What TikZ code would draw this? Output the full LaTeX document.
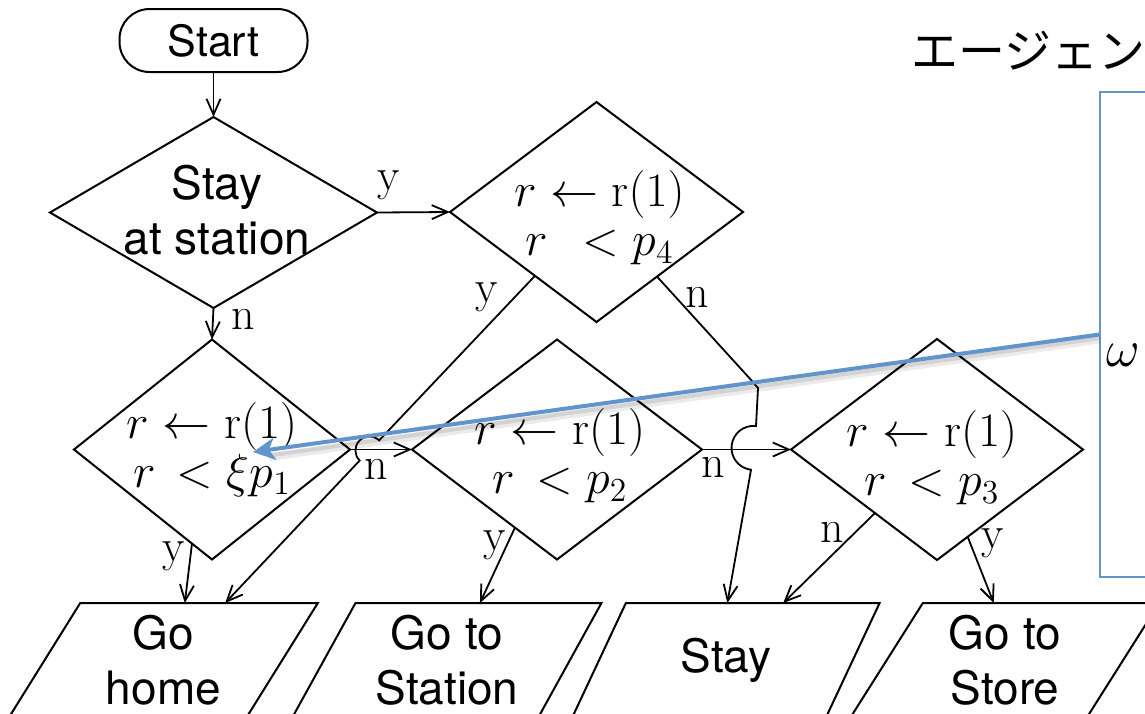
\RequirePackage{fix-cm}
\documentclass[tikz,border=0pt]{standalone}
\usepackage{fontspec}
\setsansfont{TeX Gyre Heros}
\newfontfamily\jpfont{Noto Sans CJK JP}
\usetikzlibrary{shapes.geometric,arrows.meta,calc}

\definecolor{slideblue}{RGB}{98,148,204}

\tikzset{
  box/.style={draw, line width=1pt, inner sep=0pt, outer sep=0pt},
  decision/.style={box, diamond},
  action/.style={box, trapezium, trapezium left angle=61.4, trapezium right angle=118.6,
    trapezium stretches=true, minimum width=154.5pt, minimum height=57pt, align=center,
    font=\sffamily\fontsize{23}{27.5}\selectfont},
  flow/.style={line width=0.9pt, -{Straight Barb[length=8pt,width=7pt]}},
  yn/.style={inner sep=0pt, font=\fontsize{23}{23}\selectfont},
  cond/.style={inner sep=0pt, align=center, font=\fontsize{24}{24.5}\selectfont},
  bluearrow/.style={slideblue, line width=2pt, -{Stealth[length=11pt,width=11pt,inset=3pt]}},
}

\begin{document}
\begin{tikzpicture}[x=0.5pt, y=-0.5pt]
  \useasboundingbox (0,0) rectangle (1145,713);
  \clip (0,0) rectangle (1145,713);

  % start and the tests
  \node[box, rounded corners=15pt, minimum width=94pt, minimum height=31.5pt,
        font=\sffamily\fontsize{21.5}{21.5}\selectfont] (start) at (213.5,40.5) {Start};
  \node[decision, minimum width=163.5pt, minimum height=95.5pt] (atst) at (213.5,212.5) {};
  \node[decision, minimum width=146.5pt, minimum height=110pt] (dfour) at (596.5,212) {};
  \node[decision, minimum width=138pt, minimum height=110pt] (done) at (212,449.5) {};
  \node[decision, minimum width=145pt, minimum height=110pt] (dtwo) at (557,449.5) {};
  \node[decision, minimum width=146pt, minimum height=110.5pt] (dthree) at (937,449.5) {};

  \node[inner sep=0pt, align=center, font=\sffamily\fontsize{23}{27.5}\selectfont]
        (atsttxt) at ([shift={(3.5,-2.5)}]atst.center) {Stay\\at station};
  \node[cond] (tfour) at ([shift={(3,6)}]dfour.center) {$r\leftarrow\mathrm{r}(1)$\\$r\;\,< p_4$};
  \node[cond] (tone) at ([shift={(0,0)}]done.center) {$r\leftarrow\mathrm{r}(1)$\\$r\,< \xi p_1$};
  \node[cond] (ttwo) at ([shift={(3,6.5)}]dtwo.center) {$r\leftarrow\mathrm{r}(1)$\\$r\,< p_2$};
  \node[cond] (tthree) at ([shift={(-5,8.5)}]dthree.center) {$r\leftarrow\mathrm{r}(1)$\\$r\,< p_3$};

  % outcomes
  \node[action] (home) at (163.5,660) {Go\\home};
  \node[action] (station) at (447,660) {Go to\\Station};
  \node[action] (stay) at (726,660) {Stay};
  \node[action] (store) at (1005,660) {Go to\\Store};

  \coordinate (homey) at ($(home.top left corner)!0.44!(home.top right corner)$);
  \coordinate (homex) at ($(home.top left corner)!0.61!(home.top right corner)$);
  \coordinate (stationy) at ($(station.top left corner)!0.506!(station.top right corner)$);
  \coordinate (stayx) at ($(stay.top left corner)!0.4!(stay.top right corner)$);
  \coordinate (stayn) at ($(stay.top left corner)!0.62!(stay.top right corner)$);
  \coordinate (storey) at ($(store.top left corner)!0.3!(store.top right corner)$);
  \coordinate (fy) at ($(dfour.west)!0.58!(dfour.south)$);
  \coordinate (fn) at ($(dfour.south)!0.413!(dfour.east)$);

  % connectors
  \draw[flow] (start.south) -- (atst.north);
  \draw[flow] (atst.south) -- (done.north);
  \draw[flow] (atst.east) -- (dfour.west);
  \draw[flow] (done.east) -- (dtwo.west);
  \draw[flow] (dtwo.east) -- (dthree.west);
  \draw[flow] (fy) -- ($(fy)!0.503!(homex)$) arc[start angle=46, end angle=226, radius=7pt] -- (homex);
  \draw[flow] (fn) -- (752,381) -- (758,388) -- (756,426)
        arc[start angle=83.5, end angle=263.5, radius=11pt] -- (stayx);
  \draw[flow] ($(done.west)!0.855!(done.south)$) -- (homey);
  \draw[flow] ($(dtwo.west)!0.71!(dtwo.south)$) -- (stationy);
  \draw[flow] ($(dthree.west)!0.575!(dthree.south)$) -- (stayn);
  \draw[flow] ($(dthree.south)!0.21!(dthree.east)$) -- (storey);

  % branch labels
  \node[yn] (ya) at (389,185) {y};
  \node[yn] (na) at (243,319) {n};
  \node[yn] (yb) at (487,297) {y};
  \node[yn] (nb) at (697,297) {n};
  \node[yn] (nc) at (376,469) {n};
  \node[yn] (nd) at (713,467) {n};
  \node[yn] (yc) at (174,556) {y};
  \node[yn] (yd) at (495,545) {y};
  \node[yn] (ne) at (832,532) {n};
  \node[yn] (ye) at (993,543) {y};

  % overlay
  \node[font=\jpfont\fontsize{23.5}{23.5}\selectfont, anchor=base west, inner sep=0pt] (title) at (911,68) {エージェン};
  \node[draw=slideblue, line width=0.6pt, minimum width=100pt, minimum height=242.5pt, inner sep=0pt] (panel) at (1200,334.5) {};
  \node[inner sep=0pt, anchor=west, font=\fontsize{26}{26}\selectfont] (ws) at (1106,355) {$\omega$};
  \coordinate (wtip) at (253,452);
  \draw[black, opacity=0.08, line width=4pt] ([yshift=-2.5pt]panel.west) -- ([yshift=-2.5pt,xshift=8pt]wtip);
  \draw[black, opacity=0.10, line width=2pt] ([yshift=-1.8pt]panel.west) -- ([yshift=-1.8pt,xshift=8pt]wtip);
  \draw[bluearrow] (panel.west) -- (wtip);
\end{tikzpicture}
\end{document}
